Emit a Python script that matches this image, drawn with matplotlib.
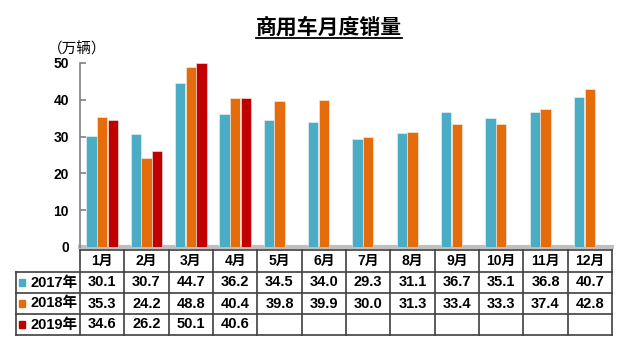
import matplotlib
matplotlib.use('Agg')
import matplotlib.pyplot as plt
import matplotlib.transforms as mtransforms
from matplotlib.patches import Rectangle

plt.rcParams['font.family'] = ['Liberation Sans', 'Noto Sans CJK SC', 'DejaVu Sans']
plt.rcParams['font.weight'] = 'bold'

# data (万辆)
months = ['1月', '2月', '3月', '4月', '5月', '6月', '7月', '8月', '9月', '10月', '11月', '12月']
years = ['2017年', '2018年', '2019年']
sales_2017 = [30.1, 30.7, 44.7, 36.2, 34.5, 34.0, 29.3, 31.1, 36.7, 35.1, 36.8, 40.7]
sales_2018 = [35.3, 24.2, 48.8, 40.4, 39.8, 39.9, 30.0, 31.3, 33.4, 33.3, 37.4, 42.8]
sales_2019 = [34.6, 26.2, 50.1, 40.6]
colors = ['#4BACC6', '#E46C0A', '#C00000']
series = [sales_2017, sales_2018, sales_2019]

W, H = 640, 357
fig = plt.figure(figsize=(W / 100, H / 100), dpi=100)
ax = fig.add_axes([80 / W, 1 - 247 / H, 532 / W, 184 / H])

bar_w = 0.23
offsets = [-0.24, 0.0, 0.24]
for vals, col, off in zip(series, colors, offsets):
    xs = [i + off for i in range(len(vals))]
    ax.bar(xs, vals, width=bar_w, color=col, edgecolor='#f2f2f2', linewidth=0.4, zorder=3)

ax.set_xlim(-0.5, 11.5)
ax.set_ylim(0, 50)
ax.set_yticks([0, 10, 20, 30, 40, 50])
ax.set_xticks([])
for s in ['top', 'right', 'bottom']:
    ax.spines[s].set_visible(False)
ax.spines['left'].set_color('#808080')
ax.spines['left'].set_linewidth(1.2)
ax.tick_params(axis='y', direction='in', length=4, width=1.2, color='#808080',
               labelsize=10, pad=8)
for lab in ax.get_yticklabels():
    lab.set_fontweight('bold')
ax.axhline(0, color='#BFBFBF', lw=3, zorder=2, clip_on=False)

# table under the chart
trans = mtransforms.blended_transform_factory(ax.transData, ax.transAxes)
def ya(ypx):
    return (247 - ypx) / 184

row_edges = [250, 272, 293, 314, 335]
x_label_left = -0.5 + (16 - 80) / 44.33
lc = '#404040'
lw = 1.2
# horizontal lines
ax.plot([-0.5, 11.5], [ya(row_edges[0])] * 2, color=lc, lw=lw, transform=trans, clip_on=False)
for r in row_edges[1:]:
    ax.plot([x_label_left, 11.5], [ya(r)] * 2, color=lc, lw=lw, transform=trans, clip_on=False)
# vertical lines
ax.plot([x_label_left] * 2, [ya(272), ya(335)], color=lc, lw=lw, transform=trans, clip_on=False)
for i in range(13):
    ax.plot([i - 0.5] * 2, [ya(250), ya(335)], color=lc, lw=lw, transform=trans, clip_on=False)

def row_mid(k):
    return ya((row_edges[k] + row_edges[k + 1]) / 2)

for i, m in enumerate(months):
    ax.text(i, row_mid(0), m, ha='center', va='center', fontsize=10,
            fontweight='bold', transform=trans)
for k, (yr, vals, col) in enumerate(zip(years, series, colors)):
    ym = row_mid(k + 1)
    for i, v in enumerate(vals):
        ax.text(i, ym, f'{v:.1f}', ha='center', va='center', fontsize=10.5,
                fontweight='bold', transform=trans)
    ax.add_patch(Rectangle((x_label_left + 0.07, ym - 0.02), 0.14, 0.04,
                           color=col, transform=trans, clip_on=False))
    ax.text(-0.5 - 0.06, ym, yr, ha='right', va='center', fontsize=10.5,
            fontweight='bold', transform=trans)

# title with underline
title = fig.text(329 / W, 1 - 27 / H, '商用车月度销量', ha='center', va='center',
                 fontsize=15, fontweight='bold')
fig.canvas.draw()
bb = title.get_window_extent(renderer=fig.canvas.get_renderer())
bb = bb.transformed(fig.transFigure.inverted())
fig.add_artist(plt.Line2D([bb.x0, bb.x1], [bb.y0 - 0.003, bb.y0 - 0.003],
                          transform=fig.transFigure, color='black', lw=1.3))

fig.text(77 / W, 1 - 49 / H, '（万辆）', ha='center', va='center', fontsize=10.5,
         fontweight='normal')

fig.savefig('out.png', dpi=100, facecolor='white')
